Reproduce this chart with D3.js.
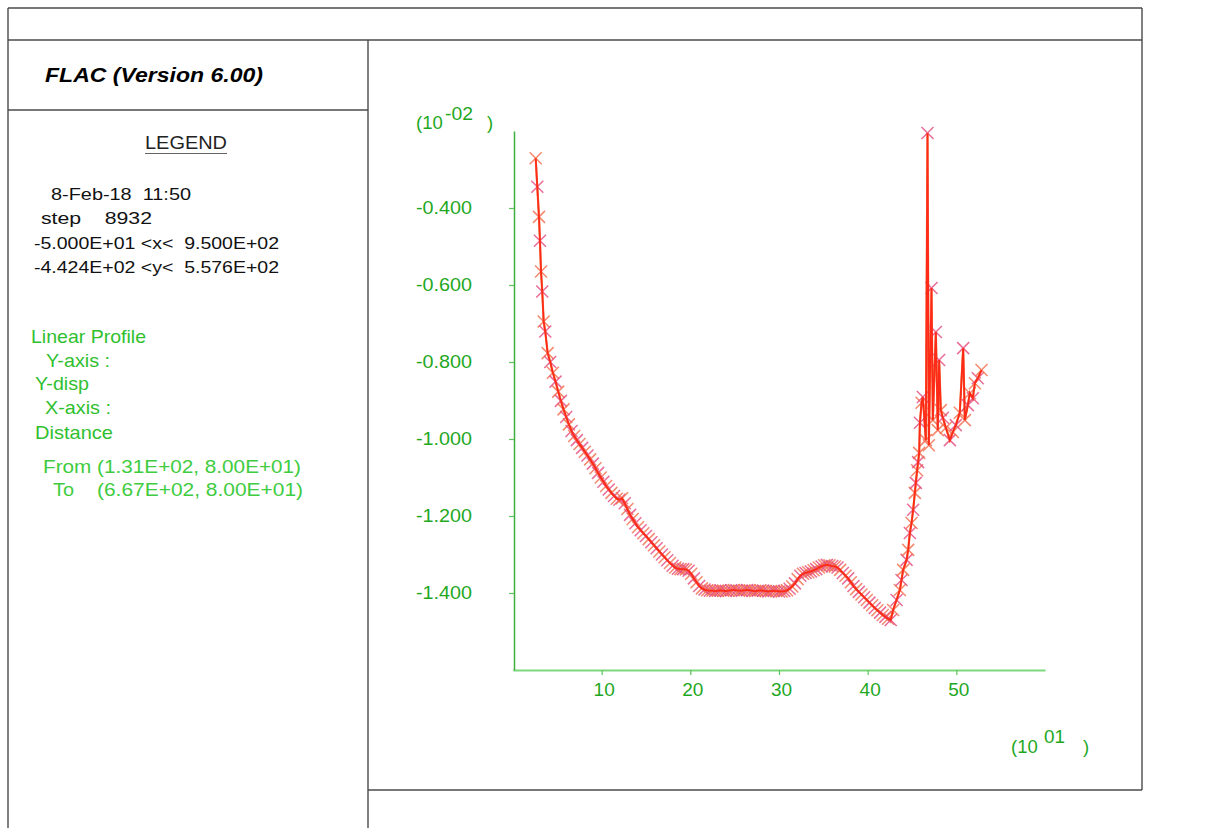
<!DOCTYPE html>
<html><head><meta charset="utf-8">
<script src="https://cdn.jsdelivr.net/npm/d3@7"></script>
<style>
html,body{margin:0;padding:0;background:#fff;}
svg{display:block;font-family:"Liberation Sans",Arial,sans-serif;}
text{white-space:pre;}
</style></head>
<body>
<svg id="c" width="1205" height="828"></svg>
<script>
// ---- data (distance in 10^1, y-displacement in 10^-2) ----
const distX = [2.56,2.74,2.93,3.04,3.16,3.30,3.46,3.64,3.91,
4.2,4.5,4.8,5.1,5.4,5.7,6.0,6.3,6.6,6.9,7.2,7.5,7.8,8.1,8.4,8.7,9.0,9.3,9.6,9.9,
10.2,10.5,10.8,11.1,11.4,11.7,12.0,12.3,12.6,12.9,13.2,13.5,13.8,14.1,14.4,14.7,
15.0,15.3,15.6,15.9,16.2,16.5,16.8,17.1,17.4,17.7,18.0,18.3,18.6,18.9,19.2,19.5,19.8,
20.1,20.4,20.7,21.0,21.3,21.6,21.9,22.2,22.5,22.8,23.1,23.4,23.7,24.0,24.3,24.6,24.9,
25.2,25.5,25.8,26.1,26.4,26.7,27.0,27.3,27.6,27.9,28.2,28.5,28.8,29.1,29.4,29.7,
30.0,30.3,30.6,30.9,31.2,31.5,31.8,32.1,32.4,32.7,33.0,33.3,33.6,33.9,34.2,34.5,34.8,
35.1,35.4,35.7,36.0,36.3,36.6,36.9,37.2,37.5,37.8,38.1,38.4,38.7,39.0,39.3,39.6,39.9,
40.2,40.5,40.8,41.1,41.4,41.7,42.0,42.3,42.6,
42.87,43.26,43.63,43.82,44.00,44.39,44.57,44.76,44.95,45.13,45.32,45.43,45.58,45.69,45.81,
45.89,46.08,46.22,46.56,46.75,46.90,47.20,47.35,47.69,47.91,48.06,48.25,48.48,48.82,
49.27,49.61,49.94,50.39,50.77,50.96,51.30,51.52,51.86,52.09,52.42,52.84];
const yDisp = [-0.271,-0.345,-0.423,-0.485,-0.565,-0.617,-0.695,-0.721,-0.777,
-0.800,-0.828,-0.851,-0.877,-0.901,-0.923,-0.943,-0.962,-0.979,-0.992,-1.003,-1.013,-1.023,-1.033,-1.043,-1.053,-1.064,-1.076,-1.088,-1.100,
-1.111,-1.122,-1.131,-1.140,-1.148,-1.155,-1.158,-1.154,-1.167,-1.182,-1.197,-1.208,-1.219,-1.229,-1.237,-1.245,
-1.252,-1.260,-1.268,-1.276,-1.284,-1.292,-1.300,-1.307,-1.315,-1.322,-1.329,-1.334,-1.337,-1.338,-1.338,-1.339,-1.342,
-1.350,-1.362,-1.372,-1.382,-1.388,-1.391,-1.393,-1.394,-1.394,-1.395,-1.394,-1.393,-1.394,-1.395,-1.394,-1.393,-1.392,
-1.393,-1.394,-1.394,-1.393,-1.392,-1.393,-1.394,-1.395,-1.394,-1.393,-1.394,-1.395,-1.396,-1.395,-1.394,-1.395,
-1.396,-1.396,-1.395,-1.393,-1.389,-1.383,-1.375,-1.364,-1.355,-1.350,-1.348,-1.346,-1.344,-1.341,-1.338,-1.334,-1.331,
-1.328,-1.327,-1.328,-1.330,-1.331,-1.334,-1.340,-1.348,-1.355,-1.362,-1.372,-1.382,-1.390,-1.397,-1.404,-1.411,-1.418,
-1.425,-1.432,-1.439,-1.445,-1.451,-1.457,-1.462,-1.467,-1.470,
-1.444,-1.418,-1.392,-1.366,-1.340,-1.314,-1.288,-1.244,-1.218,-1.184,-1.140,-1.114,-1.081,-1.060,-1.036,
-0.958,-0.906,-0.891,-1.003,-0.205,-1.016,-0.608,-0.951,-0.722,-0.977,-0.795,-0.925,-0.945,-0.971,
-1.003,-0.982,-0.964,-0.932,-0.764,-0.951,-0.912,-0.881,-0.894,-0.855,-0.842,-0.821];
const xTicks = [10,20,30,40,50];
const yTicks = [-0.4,-0.6,-0.8,-1.0,-1.2,-1.4];
const legendLines = ["8-Feb-18  11:50"," step    8932","-5.000E+01 <x<  9.500E+02","-4.424E+02 <y<  5.576E+02"];
const profileLines = ["Linear Profile","Y-axis :","Y-disp","X-axis :","Distance"];
const fromTo = ["From (1.31E+02, 8.00E+01)","(6.67E+02, 8.00E+01)"];

const svg = d3.select("#c");
const frameCol = "#4a4a4a";
const green = "#1fa81f", lgreen = "#2fbf2f", fgreen = "#40cc40";

// frame
const frame = [[8,8,1142,8],[8,40,1142,40],[8,8,8,828],[1142,8,1142,790],[368,40,368,828],[8,110,368,110],[368,790,1142,790]];
svg.selectAll("line.frame").data(frame).join("line").attr("class","frame")
  .attr("x1",d=>d[0]).attr("y1",d=>d[1]).attr("x2",d=>d[2]).attr("y2",d=>d[3])
  .attr("stroke",frameCol).attr("stroke-width",1.4);

// helper: text forced to measured width
function txt(s,x,y,size,width,opt={}){
  const t = svg.append("text").attr("x",x).attr("y",y).attr("font-size",size)
    .attr("fill",opt.fill||"#111").text(s);
  if(opt.weight) t.attr("font-weight",opt.weight);
  if(opt.style) t.attr("font-style",opt.style);
  if(width) t.attr("textLength",width).attr("lengthAdjust","spacingAndGlyphs");
  return t;
}
txt("FLAC (Version 6.00)",45,82,19.5,218,{weight:"bold",style:"italic",fill:"#000"});
txt("LEGEND",145,149,19,82,{fill:"#222"});
svg.append("line").attr("x1",145).attr("x2",227).attr("y1",153.5).attr("y2",153.5).attr("stroke","#666").attr("stroke-width",1.2);
const legPos = [[51,200,140],[35,224,117],[34,249,245],[34,273,245]];
legendLines.forEach((s,i)=>txt(s,legPos[i][0],legPos[i][1],16.5,legPos[i][2],{fill:"#111"}));
const profPos = [[31,343,115],[46,367,64],[35,390,54],[45,414,66],[35,439,78]];
profileLines.forEach((s,i)=>txt(s,profPos[i][0],profPos[i][1],19,profPos[i][2],{fill:lgreen}));
txt(fromTo[0],43,473,18.5,258,{fill:fgreen});
txt("To",53,496,18.5,21,{fill:fgreen});
txt(fromTo[1],97,496,18.5,206,{fill:fgreen});

// scales
const x = d3.scaleLinear().domain([0,60]).range([513,1045]);
const y = d3.scaleLinear().domain([-1.6,-0.2]).range([670,131]);

// axes
const gx = svg.append("g").attr("transform","translate(0,670)")
  .call(d3.axisBottom(x).tickValues(xTicks).tickFormat(d3.format("d")).tickSize(5).tickSizeOuter(0).tickPadding(8));
gx.select(".domain").attr("stroke","#7dd87d").attr("stroke-width",2);
gx.selectAll(".tick line").attr("stroke","#5cc45c").attr("stroke-width",1.2);
gx.selectAll(".tick text").attr("fill",green).attr("font-size",19).attr("font-family","Liberation Sans, Arial, sans-serif").attr("dx",2);

const fmtY = d => d3.format(".3f")(d).replace("\u2212","-");
const gy = svg.append("g").attr("transform","translate(514,0)")
  .call(d3.axisLeft(y).tickValues(yTicks).tickFormat(fmtY).tickSize(5).tickSizeOuter(0).tickPadding(37));
gy.select(".domain").attr("stroke","#3fb03f").attr("stroke-width",1.5);
gy.selectAll(".tick line").attr("stroke","#5cc45c").attr("stroke-width",1.2);
gy.selectAll(".tick text").attr("fill",green).attr("font-size",18.5).attr("font-family","Liberation Sans, Arial, sans-serif").attr("textLength",56).attr("lengthAdjust","spacingAndGlyphs");

// exponent labels
txt("(10",416,129,18.5,null,{fill:green});
txt("-02",445,120,18,28,{fill:green});
txt(")",487,129,18.5,null,{fill:green});
txt("(10",1011,753,18.5,null,{fill:green});
txt("01",1044,743,18,21,{fill:green});
txt(")",1083,753,18.5,null,{fill:green});

// data
const pts = distX.map((d,i)=>({x:d,y:yDisp[i]}));
const line = d3.line().x(d=>x(d.x)).y(d=>y(d.y));
svg.append("path").datum(pts).attr("d",line).attr("fill","none").attr("stroke","#ee8a52").attr("stroke-width",2.2);
const h = 6;
svg.append("g").selectAll("path").data(pts).join("path")
  .attr("d",d=>{const cx=x(d.x),cy=y(d.y);return `M${cx-h},${cy-h}L${cx+h},${cy+h}M${cx-h},${cy+h}L${cx+h},${cy-h}`;})
  .attr("stroke",(d,i)=>i%2?"#e4497c":"#f26a4a").attr("stroke-width",1.5).attr("fill","none").attr("opacity",0.8);
svg.append("path").datum(pts).attr("d",line).attr("fill","none").attr("stroke","#ff2a18").attr("stroke-width",1.8);
</script>
</body></html>
